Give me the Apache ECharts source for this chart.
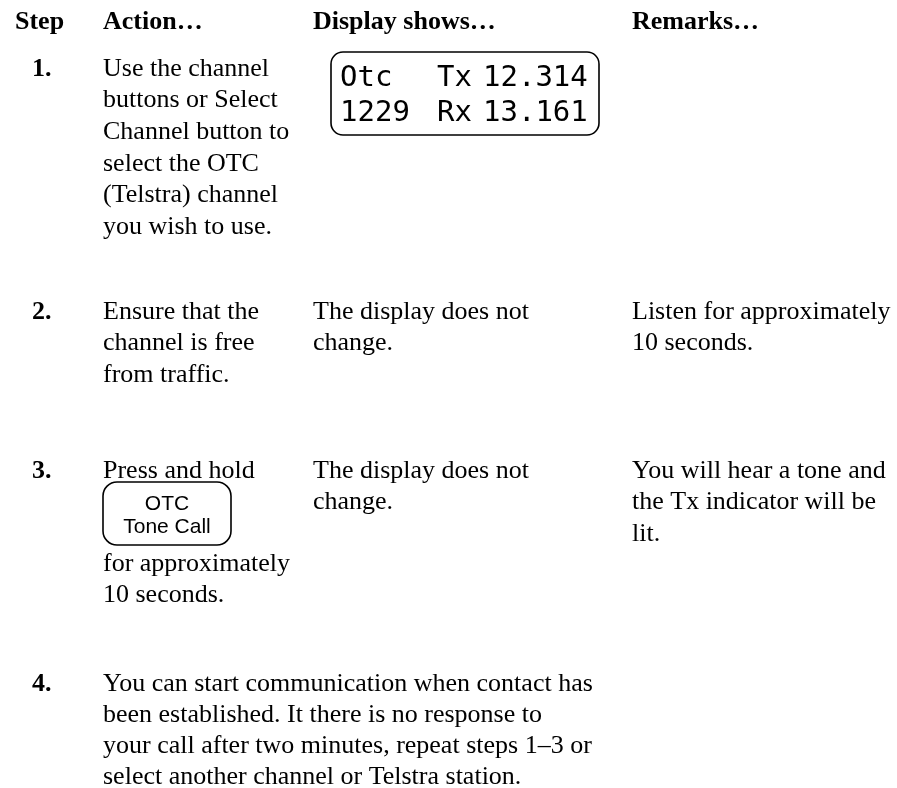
<!DOCTYPE html>
<html>
<head>
<meta charset="utf-8">
<script src="https://cdn.jsdelivr.net/npm/echarts@6/dist/echarts.min.js"></script>
<style>html,body{margin:0;padding:0;background:#fff;}#c{width:897px;height:788px;}</style>
</head>
<body>
<div id="c"></div>
<script>
// ---- content ----
var headers = ["Step", "Action\u2026", "Display shows\u2026", "Remarks\u2026"];
var stepNumbers = ["1.", "2.", "3.", "4."];
var step1Action = ["Use the channel", "buttons or Select", "Channel button to", "select the OTC", "(Telstra) channel", "you wish to use."];
var lcdRow1 = ["Otc", "Tx", "12.314"];
var lcdRow2 = ["1229", "Rx", "13.161"];
var step2Action = ["Ensure that the", "channel is free", "from traffic."];
var step2Display = ["The display does not", "change."];
var step2Remarks = ["Listen for approximately", "10 seconds."];
var step3Action = ["Press and hold"];
var buttonLabel = ["OTC", "Tone Call"];
var step3After = ["for approximately", "10 seconds."];
var step3Display = ["The display does not", "change."];
var step3Remarks = ["You will hear a tone and", "the Tx indicator will be", "lit."];
var step4Text = ["You can start communication when contact has", "been established. It there is no response to", "your call after two minutes, repeat steps 1\u20133 or", "select another channel or Telstra station."];

// ---- layout ----
var colX = [15, 103, 313, 632];
var numX = 32;
var LH = 31.6;
var SERIF = '"Liberation Serif", "Times New Roman", serif';
var SANS = '"Liberation Sans", Arial, sans-serif';
var MONO = '"DejaVu Sans Mono", monospace';
var MID = 9; // baseline -> middle offset for 26px serif

var els = [];
function txt(s, x, baseline, opts) {
  opts = opts || {};
  els.push({
    type: 'text',
    style: {
      text: s, x: x, y: baseline - (opts.mid != null ? opts.mid : MID),
      fill: '#000',
      fontFamily: opts.family || SERIF,
      fontSize: opts.size || 26,
      fontWeight: opts.weight || 'normal',
      align: opts.align || 'left',
      verticalAlign: 'middle'
    }
  });
}
function lines(arr, x, baseline, lh) {
  arr.forEach(function (s, i) { txt(s, x, baseline + i * (lh || LH)); });
}

// headers
headers.forEach(function (h, i) { txt(h, colX[i], 31, {weight: 'bold'}); });

// step rows baselines
var rowBase = [78, 321, 480, 693];
stepNumbers.forEach(function (n, i) { txt(n, numX, rowBase[i], {weight: 'bold'}); });

// step 1
lines(step1Action, colX[1], rowBase[0]);
els.push({type: 'rect', shape: {x: 331, y: 52, width: 268, height: 83, r: 12},
  style: {fill: 'none', stroke: '#000', lineWidth: 1.6}});
var lcdX = [340, 437, 483];
lcdRow1.forEach(function (s, i) { txt(s, lcdX[i], 88, {family: MONO, size: 29, mid: 10}); });
lcdRow2.forEach(function (s, i) { txt(s, lcdX[i], 123, {family: MONO, size: 29, mid: 10}); });

// step 2
lines(step2Action, colX[1], rowBase[1]);
lines(step2Display, colX[2], rowBase[1]);
lines(step2Remarks, colX[3], rowBase[1]);

// step 3
lines(step3Action, colX[1], rowBase[2]);
els.push({type: 'rect', shape: {x: 103, y: 482, width: 128, height: 63, r: 14},
  style: {fill: 'none', stroke: '#000', lineWidth: 1.6}});
txt(buttonLabel[0], 167, 512, {family: SANS, size: 21, align: 'center', mid: 7.5});
txt(buttonLabel[1], 167, 535, {family: SANS, size: 21, align: 'center', mid: 7.5});
lines(step3After, colX[1], 573);
lines(step3Display, colX[2], rowBase[2]);
lines(step3Remarks, colX[3], rowBase[2]);

// step 4
lines(step4Text, colX[1], rowBase[3], 31.2);

var chart = echarts.init(document.getElementById('c'), null, {renderer: 'canvas'});
chart.setOption({
  backgroundColor: '#fff',
  animation: false,
  graphic: {elements: els}
});
</script>
</body>
</html>
